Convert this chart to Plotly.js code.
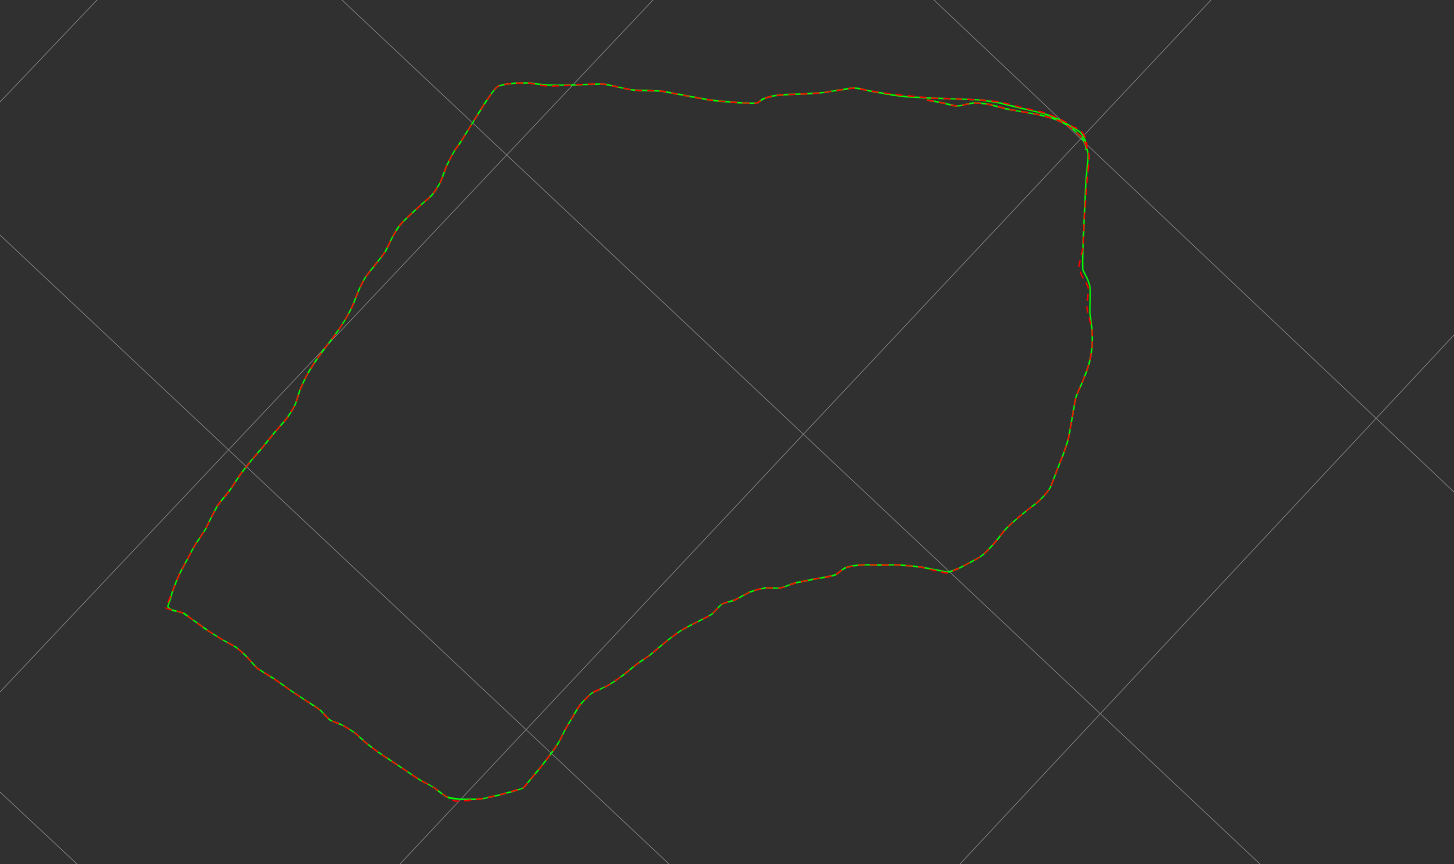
<!DOCTYPE html>
<html>
<head>
<meta charset="utf-8">
<script src="https://cdn.plot.ly/plotly-3.0.1.min.js"></script>
<style>
html,body{margin:0;padding:0;background:#303030;overflow:hidden;}
#chart{width:1454px;height:864px;}
</style>
</head>
<body>
<div id="chart"></div>
<script>
// Grid line endpoints (picture coordinates)
var gridX0 = [0, 342, 934, 0, 0, 0, 400, 960];
var gridY0 = [235, 0, 0, 792, 102, 692, 864, 864];
var gridX1 = [669, 1260, 1454, 77, 97, 653, 1211, 1454];
var gridY1 = [864, 864, 492, 864, 0, 0, 0, 335];

// Trajectory A (green)
var greenX = [927,943,957,973,987,1007,1040,1057,1070,1082,1088,1086,1084,1083,1083,1087,1090,1090,1092,1092,1090,1087,1082,1076,1073,1070,1068,1063,1057,1050,1040,1025,1012,1004,997,988,980,967,957,948,937,920,900,880,860,845,835,815,795,780,765,750,735,722,712,697,682,668,650,637,622,607,592,580,572,565,560,557,550,540,530,523,517,503,490,480,458,447,433,420,405,390,378,365,355,342,330,320,305,290,273,257,247,237,223,207,193,183,172,168,170,173,180,187,195,205,210,218,230,240,250,262,275,287,295,300,307,315,325,335,345,352,358,365,375,385,393,400,410,422,432,440,447,455,460,470,487,497,507,527,547,573,603,613,633,660,677,710,730,757,763,773,780,800,820,840,855,870,900,930,960,980,1000,1020,1045,1060,1072,1080,1085,1086];
var greenY = [100,103,106,103,104,109,115,120,127,138,153,180,223,247,270,278,287,313,330,347,360,370,383,397,413,430,440,455,470,488,500,512,523,531,540,550,557,564,569,572,570,567,565,565,565,568,575,579,583,588,588,592,600,604,614,622,630,640,655,664,676,686,693,705,718,730,740,745,755,768,780,788,790,794,797,799,799,797,787,780,770,760,752,742,733,725,720,710,700,690,678,668,657,648,640,630,620,613,610,607,600,590,573,560,545,530,520,505,490,475,462,448,432,418,405,390,375,362,348,335,320,307,292,278,265,252,236,225,215,204,195,183,165,150,143,127,100,87,84,83,85,85,84,86,90,91,94,100,102,103,99,96,95,94,93,90,88,91,96,98,99,100,103,108,114,120,127,132,140,150];

// Trajectory B (red)
var redX = [927,943,957,973,987,1007,1040,1057,1071,1083,1089,1087,1084,1083,1079,1082,1088,1087,1092,1092,1090,1087,1082,1076,1073,1070,1068,1063,1057,1050,1040,1025,1012,1004,997,988,980,967,957,948,937,920,900,880,860,845,835,815,795,780,765,750,735,722,712,697,682,668,650,637,622,607,592,580,572,565,560,557,550,540,530,523,517,503,490,480,455,447,433,420,405,390,378,365,355,342,330,320,305,290,273,257,247,237,223,207,193,183,172,166,169,173,180,187,195,205,210,218,230,240,250,262,275,287,295,300,307,315,325,335,345,352,358,365,375,385,393,400,410,422,432,440,447,455,460,470,487,497,507,527,547,573,603,613,633,660,677,710,730,757,763,773,780,800,820,840,855,870,900,930,960,980,1000,1020,1045,1060,1072,1081,1086,1087];
var redY = [100,103,106,103,104,109,115,120,128,139,155,181,223,247,267,276,287,308,330,347,360,370,383,397,413,430,440,455,470,488,500,512,523,531,540,550,557,564,569,573,571,567,565,565,565,568,575,579,583,588,588,592,600,604,614,622,630,640,655,664,676,686,693,705,718,730,740,745,755,768,780,788,790,794,797,799,801,797,787,780,770,760,752,742,733,725,720,710,700,690,678,668,657,648,640,630,620,613,610,608,600,590,573,560,545,530,520,505,490,475,462,448,432,418,405,390,375,362,348,335,320,307,292,278,265,252,236,225,215,204,195,183,165,150,143,127,100,87,84,83,86,85,84,86,90,91,94,100,102,103,99,96,95,94,93,90,88,91,95,98,99,100,102,107,113,119,126,131,139,152];

var traces = [];
for (var i = 0; i < gridX0.length; i++) {
  traces.push({
    type: 'scatter', mode: 'lines',
    x: [gridX0[i], gridX1[i]], y: [gridY0[i], gridY1[i]],
    line: {color: 'rgb(125,125,125)', width: 1},
    hoverinfo: 'skip', showlegend: false
  });
}
traces.push({
  type: 'scatter', mode: 'lines', x: greenX, y: greenY,
  line: {color: '#00ff00', width: 1.4, shape: 'spline', smoothing: 0.6},
  showlegend: false, hoverinfo: 'skip'
});
traces.push({
  type: 'scatter', mode: 'lines', x: redX, y: redY,
  line: {color: '#ff0000', width: 1.4, shape: 'spline', smoothing: 0.6, dash: '7px,5px'},
  showlegend: false, hoverinfo: 'skip'
});

var layout = {
  width: 1454, height: 864,
  margin: {l: 0, r: 0, t: 0, b: 0, pad: 0},
  paper_bgcolor: '#303030', plot_bgcolor: '#303030',
  xaxis: {range: [0, 1454], visible: false, fixedrange: true},
  yaxis: {range: [864, 0], visible: false, fixedrange: true},
  showlegend: false
};
Plotly.newPlot('chart', traces, layout, {displayModeBar: false, staticPlot: true});
</script>
</body>
</html>
